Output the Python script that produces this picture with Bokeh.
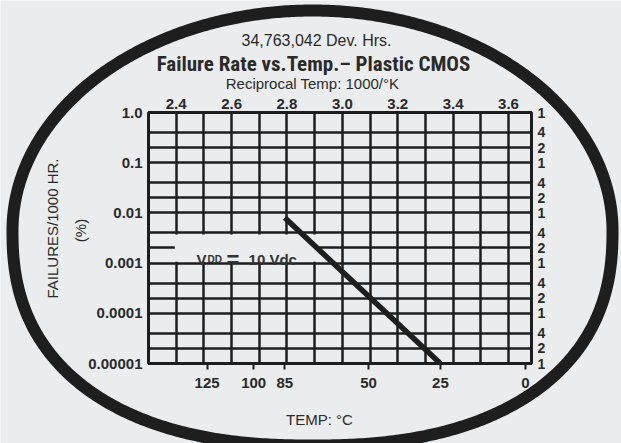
import numpy as np
from bokeh.plotting import figure
from bokeh.models import (LinearAxis, LogAxis, FixedTicker, Label, BoxAnnotation, Range1d)
from bokeh.embed import file_html
from bokeh.resources import INLINE

# ---------------- data ----------------
title_top = "34,763,042 Dev. Hrs."
title_main = "Failure Rate vs.Temp.\u2013 Plastic CMOS"
recip_title = "Reciprocal Temp: 1000/\u00b0K"
y_title = "FAILURES/1000 HR."
y_title2 = "(%)"
x_title = "TEMP: \u00b0C"

recip_ticks = [2.4, 2.6, 2.8, 3.0, 3.2, 3.4, 3.6]
recip_tick_labels = ["2.4", "2.6", "2.8", "3.0", "3.2", "3.4", "3.6"]
recip_grid = [2.4, 2.5, 2.6, 2.7, 2.8, 2.9, 3.0, 3.1, 3.2, 3.3, 3.4, 3.5, 3.6]
recip_range = [2.3, 3.683]

temp_ticks_c = [125, 100, 85, 50, 25, 0]
temp_tick_labels = ["125", "100", "85", "50", "25", "0"]

decades = [1.0, 0.1, 0.01, 0.001, 0.0001, 0.00001]
decade_labels = ["1.0", "0.1", "0.01", "0.001", "0.0001", "0.00001"]
mantissas = [1, 4, 2]
mantissa_labels = ["1", "4", "2"]

vdd_temp_c = [85, 25]
vdd_rate = [0.008, 0.00001]

# ---------------- style ----------------
BG = "#eaecee"
INK = "#1e1e1e"
TXT = "#2a2a2a"
NUM_FONT = "Liberation Sans"
W, H = 621, 443
FL, FR, FT, FB = 148, 531, 112, 363   # frame edges in canvas px


def recip(tc):
    return 1000.0 / (tc + 273.15)


right_ticks, right_labels = [], []
for d in decades[:-1]:
    for m, lab in zip(mantissas, mantissa_labels):
        right_ticks.append(d * m / (10 if m != 1 else 1))
        right_labels.append(lab)
right_ticks.append(decades[-1])
right_labels.append(mantissa_labels[0])

# ---------- background sheet: surrounding oval + free texts ----------
bg = figure(width=W, height=H, x_range=Range1d(0, W), y_range=Range1d(H, 0),
            x_axis_location=None, y_axis_location=None, min_border=0,
            output_backend="svg", toolbar_location=None,
            background_fill_color=BG, border_fill_color=BG, outline_line_color=None)
bg.grid.visible = False

# oval: elliptical upper half, slightly flattened (super-elliptic) lower half
cx, cy, a, b_up, b_lo, n_lo = 312, 230, 300, 220, 215, 2.35
t = np.linspace(0, 2 * np.pi, 721)
c, s = np.cos(t), np.sin(t)
lower = s > 0
ex = np.where(lower, cx + a * np.sign(c) * np.abs(c) ** (2 / n_lo), cx + a * c)
ey = np.where(lower, cy + b_lo * np.abs(s) ** (2 / n_lo), cy + b_up * s)
bg.line(x=ex, y=ey, line_color=INK, line_width=12, line_join="round")


def free_label(text, x, y, size, style="normal", font=NUM_FONT, angle=0.0):
    return Label(x=x, y=y, text=text, text_font=font, text_font_size=size,
                 text_font_style=style, text_color=TXT, text_align="center",
                 text_baseline="middle", angle=angle)


bg.add_layout(free_label(title_top, 316, 40, "16px"))
bg.add_layout(free_label(title_main, 313, 63, "21px", "bold", "Roboto Condensed"))
bg.add_layout(free_label(recip_title, 312, 83, "15px"))
bg.add_layout(free_label(y_title, 52, 228, "15px", angle=np.pi / 2))
bg.add_layout(free_label(y_title2, 80, 230, "15px", angle=np.pi / 2))
bg.add_layout(free_label(x_title, 319, 419, "15px"))

# ---------------- chart ----------------
p = figure(width=W, height=H, x_range=Range1d(*recip_range), y_range=Range1d(decades[-1], decades[0]),
           y_axis_type="log", x_axis_location=None, y_axis_location=None,
           output_backend="svg", toolbar_location=None,
           min_border_left=FL, min_border_right=W - FR, min_border_top=FT, min_border_bottom=H - FB,
           background_fill_alpha=0.0, border_fill_alpha=0.0,
           outline_line_color=INK, outline_line_width=3,
           margin=(-H, 0, 0, 0))

p.xgrid.ticker = FixedTicker(ticks=recip_grid)
p.ygrid.ticker = FixedTicker(ticks=right_ticks)
for g in p.grid:
    g.grid_line_color = INK
    g.grid_line_width = 2.5
    g.grid_line_alpha = 1.0


def style_axis(ax, size="15px"):
    ax.axis_line_color = None
    ax.minor_tick_line_color = None
    ax.major_tick_line_color = None
    ax.major_tick_out = 0
    ax.major_tick_in = 0
    ax.major_label_text_font = NUM_FONT
    ax.major_label_text_font_style = "bold"
    ax.major_label_text_font_size = size
    ax.major_label_text_color = TXT


left = LogAxis(ticker=FixedTicker(ticks=decades),
               major_label_overrides=dict(zip(decades, decade_labels)))
style_axis(left)
left.major_label_standoff = 6
p.add_layout(left, "left")

right = LogAxis(ticker=FixedTicker(ticks=right_ticks),
                major_label_overrides=dict(zip(right_ticks, right_labels)))
style_axis(right, "14px")
right.major_label_standoff = 6
p.add_layout(right, "right")

top = LinearAxis(ticker=FixedTicker(ticks=recip_ticks),
                 major_label_overrides=dict(zip(recip_ticks, recip_tick_labels)))
style_axis(top)
top.major_label_standoff = 4
p.add_layout(top, "above")

tpos = [recip(tc) for tc in temp_ticks_c]
bottom = LinearAxis(ticker=FixedTicker(ticks=tpos),
                    major_label_overrides=dict(zip(tpos, temp_tick_labels)))
style_axis(bottom)
bottom.major_tick_line_color = INK
bottom.major_tick_line_width = 2
bottom.major_tick_out = 6
bottom.major_label_standoff = 8
p.add_layout(bottom, "below")

# blank-out box behind the series label
p.add_layout(BoxAnnotation(left=2.395, right=2.915, bottom=0.00106, top=0.0037,
                           fill_color=BG, fill_alpha=1.0, line_color=None, level="underlay"))

# series
p.line(x=[recip(tc) for tc in vdd_temp_c], y=vdd_rate, line_width=5.5, line_color=INK)

lab_x, lab_y = 2.4735, 0.00118
for txt, dx, size in (("V", 0, "15px"), ("DD", 11, "10px"), ("=", 30, "22px"), ("10 Vdc", 52, "15px")):
    p.add_layout(Label(x=lab_x, y=lab_y, x_offset=dx, text=txt, text_font=NUM_FONT,
                       text_font_style="bold", text_font_size=size, text_color="#333333",
                       text_align="left", text_baseline="alphabetic"))

open("out.html", "w").write(file_html([bg, p], INLINE))
